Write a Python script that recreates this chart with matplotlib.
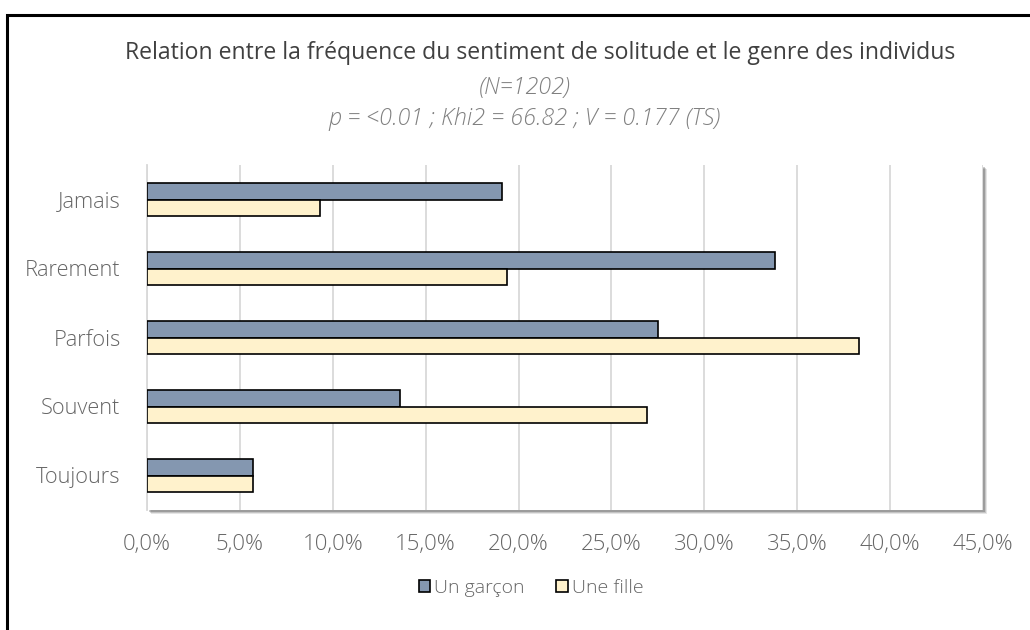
import matplotlib
matplotlib.use("Agg")
import matplotlib.pyplot as plt
from matplotlib.patches import Rectangle
from matplotlib.ticker import FuncFormatter, MultipleLocator
import numpy as np

categories = ["Jamais", "Rarement", "Parfois", "Souvent", "Toujours"]
garcon = [19.1, 33.8, 27.5, 13.6, 5.7]
fille = [9.3, 19.4, 38.3, 26.9, 5.7]
series_names = ["Un garçon", "Une fille"]
title = "Relation entre la fréquence du sentiment de solitude et le genre des individus"
subtitle1 = "(N=1202)"
subtitle2 = "p = <0.01 ; Khi2 = 66.82 ; V = 0.177 (TS)"

plt.rcParams['font.family'] = ['Open Sans', 'DejaVu Sans']
TXT = "#666666"

W, H = 1030, 630
fig = plt.figure(figsize=(W / 100, H / 100), dpi=100)
fig.patch.set_facecolor("white")

# outer border (top & left visible)
fig.add_artist(Rectangle((7 / W, -0.1), 1.2, (H - 15) / H + 0.1, transform=fig.transFigure,
                         fill=False, edgecolor="black", linewidth=2.2))

left, right, top, bottom = 147, 983, 165, 510
ax_rect = [left / W, (H - bottom) / H, (right - left) / W, (bottom - top) / H]

# shadow
for i, a in enumerate([0.10, 0.14, 0.20]):
    off = 4 - i
    fig.add_artist(Rectangle(((left + off) / W, (H - bottom - off) / H),
                             (right - left) / W, (bottom - top) / H,
                             transform=fig.transFigure, facecolor="black",
                             alpha=a, edgecolor="none", zorder=0))

ax = fig.add_axes(ax_rect)
ax.set_facecolor("white")
ax.set_zorder(1)

y = np.arange(len(categories))
h = 0.24
ax.barh(y - h / 2, garcon, height=h, color="#8497B0", edgecolor="black", linewidth=1.2,
        label=series_names[0], zorder=3)
ax.barh(y + h / 2, fille, height=h, color="#FFF2CC", edgecolor="black", linewidth=1.2,
        label=series_names[1], zorder=3)

ax.set_xlim(0, 45)
ax.set_ylim(len(categories) - 0.5, -0.5)
ax.xaxis.set_major_locator(MultipleLocator(5))
ax.xaxis.set_major_formatter(FuncFormatter(lambda v, p: f"{v:.1f}%".replace(".", ",")))
ax.set_yticks(y)
ax.set_yticklabels(categories)
ax.grid(axis="x", color="#D9D9D9", linewidth=1.3, zorder=0)
ax.set_axisbelow(True)
for s in ["top", "right", "bottom"]:
    ax.spines[s].set_visible(False)
ax.spines["left"].set_color("#D9D9D9")
ax.spines["left"].set_linewidth(1.3)
ax.tick_params(axis="both", length=0, colors=TXT)
ax.tick_params(axis="x", pad=17, labelsize=16)
ax.tick_params(axis="y", pad=19, labelsize=15.7)
for lbl in ax.get_xticklabels() + ax.get_yticklabels():
    lbl.set_fontweight("light")

fig.text(540 / W, 1 - 53 / H, title, ha="center", va="center", fontsize=16.6,
         color="#404040")
fig.text(525 / W, 1 - 88 / H, subtitle1, ha="center", va="center", fontsize=16.8,
         color="#808080", style="italic", fontweight="light")
fig.text(525 / W, 1 - 119 / H, subtitle2, ha="center", va="center", fontsize=16.8,
         color="#808080", style="italic", fontweight="light")

leg = fig.legend(loc="center", bbox_to_anchor=(531 / W, 1 - 588 / H), ncol=2, frameon=False,
                 fontsize=14, handlelength=0.6, handleheight=0.6, handletextpad=0.2,
                 columnspacing=1.6)
for t in leg.get_texts():
    t.set_color(TXT)
    t.set_fontweight("light")

fig.savefig("out.png", dpi=100, facecolor="white")
